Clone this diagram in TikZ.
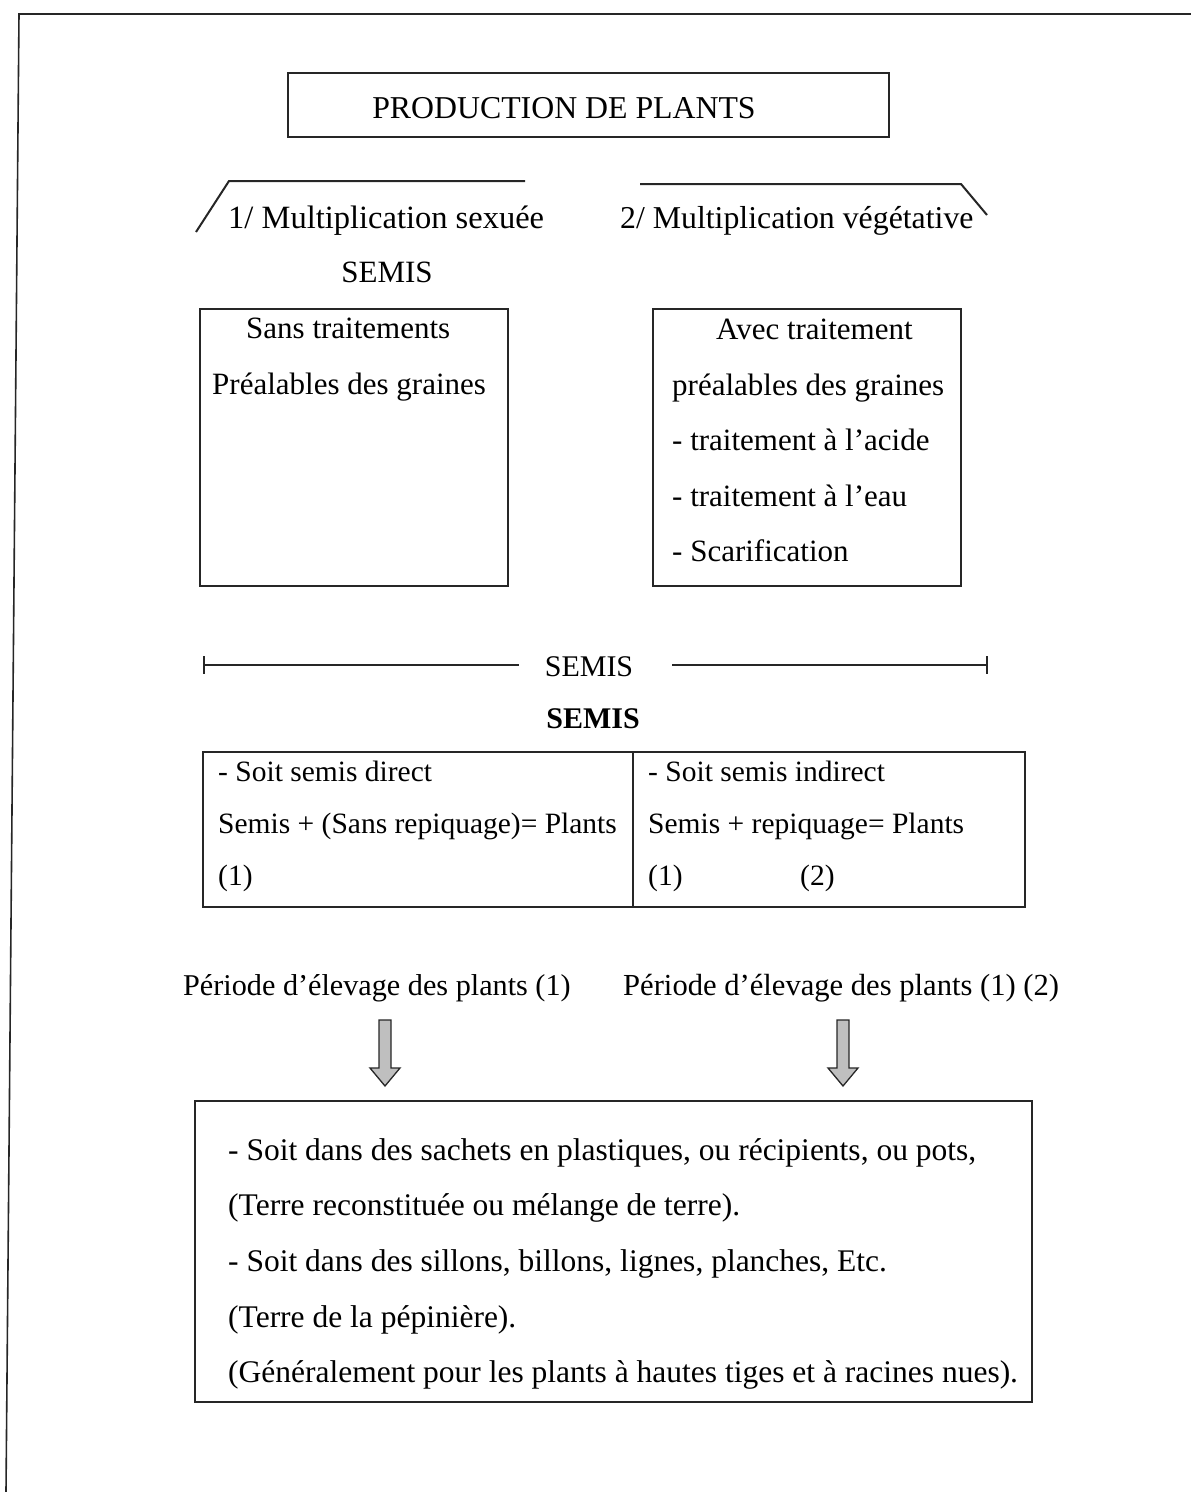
\documentclass[tikz,border=0pt]{standalone}
\usepackage{fontspec}
\setmainfont{Liberation Serif}
\begin{document}
\begin{tikzpicture}[x=1pt,y=-1pt,
  frame/.style={line width=1.6pt,black!85},
  boxline/.style={draw=black!85,line width=1.5pt},
  txt/.style={inner sep=0pt,anchor=base west,font=\fontsize{30}{36}\selectfont},
  ctxt/.style={inner sep=0pt,anchor=base,font=\fontsize{30}{36}\selectfont},
  boxtxt/.style={txt,font=\fontsize{31}{36}\selectfont},
  tabtxt/.style={txt,font=\fontsize{29.5}{36}\selectfont},
  bottxt/.style={txt,font=\fontsize{31.5}{36}\selectfont},
  multxt/.style={txt,font=\fontsize{32.5}{36}\selectfont},
  barrow/.style={draw=black!85,line width=1.3pt,fill=black!25}
]
\useasboundingbox (0,0) rectangle (1191,1492);
% outer frame
\draw[frame] (1191,14) -- (19,14) -- (6,1492);

% title
\node[boxline,minimum width=601pt,minimum height=64pt,inner sep=0pt] (title) at (588.5,105) {};
\node[ctxt,font=\fontsize{31.8}{36}\selectfont] (titletxt) at (564,118) {PRODUCTION DE PLANTS};

% branches
\coordinate (la) at (196,232); \coordinate (lb) at (229,181); \coordinate (lc) at (525,181);
\draw[frame,line width=2pt] (la) -- (lb) -- (lc);
\coordinate (ra) at (640,184); \coordinate (rb) at (961,184); \coordinate (rc) at (987,215);
\draw[frame,line width=2pt] (ra) -- (rb) -- (rc);
\node[multxt] (m1) at (228,228) {1/ Multiplication sexuée};
\node[multxt,font=\fontsize{31.8}{36}\selectfont] (m2) at (620,228) {2/ Multiplication végétative};
\node[ctxt,font=\fontsize{31}{36}\selectfont] (semis1) at (387,282) {SEMIS};

% two boxes
\node[boxline,minimum width=308pt,minimum height=277pt,inner sep=0pt] (lbox) at (354,447.5) {};
\node[boxtxt] (l1) at (246,338) {Sans traitements};
\node[boxtxt] (l2) at (212,394) {Préalables des graines};

\node[boxline,minimum width=308pt,minimum height=277pt,inner sep=0pt] (rbox) at (807,447.5) {};
\node[boxtxt] (r1) at (716,339) {Avec traitement};
\node[boxtxt] (r2) at (672,395) {préalables des graines};
\node[boxtxt] (r3) at (672,450) {- traitement à l’acide};
\node[boxtxt] (r4) at (672,506) {- traitement à l’eau};
\node[boxtxt] (r5) at (672,561) {- Scarification};

% SEMIS line
\node[ctxt] (semis2) at (589,676) {SEMIS};
\coordinate (sl) at (204,665); \coordinate (sr) at (987,665);
\draw[frame,line width=1.3pt] (sl) -- (519,665);
\draw[frame,line width=1.3pt] (672,665) -- (sr);
\draw[frame,line width=1.3pt] (204,656) -- (204,674);
\draw[frame,line width=1.3pt] (987,656) -- (987,674);

\node[ctxt,font=\fontsize{30}{36}\selectfont\bfseries] (semis3) at (593,728) {SEMIS};

% table
\node[boxline,minimum width=822pt,minimum height=155pt,inner sep=0pt] (table) at (614,829.5) {};
\draw[boxline] (table.north west -| 633,0) -- (table.south west -| 633,0);
\node[tabtxt] (t1) at (218,781) {- Soit semis direct};
\node[tabtxt] (t2) at (218,833) {Semis + (Sans repiquage)= Plants};
\node[tabtxt] (t3) at (218,885) {(1)};
\node[tabtxt] (t4) at (648,781) {- Soit semis indirect};
\node[tabtxt] (t5) at (648,833) {Semis + repiquage= Plants};
\node[tabtxt] (t6) at (648,885) {(1)};
\node[tabtxt] (t7) at (800,885) {(2)};

% periods
\node[txt,font=\fontsize{30.2}{36}\selectfont] (p1) at (183,995) {Période d’élevage des plants (1)};
\node[txt,font=\fontsize{30.6}{36}\selectfont] (p2) at (623,995) {Période d’élevage des plants (1) (2)};

% block arrows
\draw[barrow] (379,1020) -- (391,1020) -- (391,1068) -- (400,1068) -- (385,1086) -- (370,1068) -- (379,1068) -- cycle;
\draw[barrow] (837,1020) -- (849,1020) -- (849,1068) -- (858,1068) -- (843,1086) -- (828,1068) -- (837,1068) -- cycle;

% bottom box
\node[boxline,minimum width=837pt,minimum height=301pt,inner sep=0pt] (bbox) at (613.5,1251.5) {};
\node[bottxt] (b1) at (228,1160) {- Soit dans des sachets en plastiques, ou récipients, ou pots,};
\node[bottxt] (b2) at (228,1215) {(Terre reconstituée ou mélange de terre).};
\node[bottxt] (b3) at (228,1271) {- Soit dans des sillons, billons, lignes, planches, Etc.};
\node[bottxt] (b4) at (228,1327) {(Terre de la pépinière).};
\node[bottxt] (b5) at (228,1382) {(Généralement pour les plants à hautes tiges et à racines nues).};
\end{tikzpicture}
\end{document}
